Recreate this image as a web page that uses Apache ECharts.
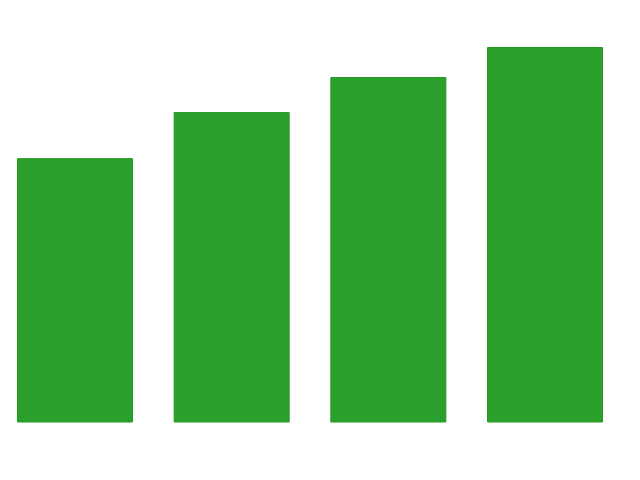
<!DOCTYPE html>
<html>
<head>
<meta charset="utf-8">
<script src="https://cdn.jsdelivr.net/npm/echarts@6/dist/echarts.min.js"></script>
<style>html,body{margin:0;padding:0;background:#fff;}#c{width:640px;height:480px;}</style>
</head>
<body>
<div id="c"></div>
<script>
var categories = ['A', 'B', 'C', 'D'];
var values = [26.4, 31.0, 34.5, 37.5];
var yMax = 37.5;

var chart = echarts.init(document.getElementById('c'), null, {renderer: 'canvas'});
chart.setOption({
  animation: false,
  backgroundColor: '#ffffff',
  grid: {left: 17, width: 586, top: 47, bottom: 57.5, containLabel: false},
  xAxis: {
    type: 'value', min: -0.37, max: 3.37,
    axisLine: {show: false}, axisTick: {show: false}, axisLabel: {show: false}, splitLine: {show: false}
  },
  yAxis: {
    type: 'value', min: 0, max: yMax,
    axisLine: {show: false}, axisTick: {show: false}, axisLabel: {show: false}, splitLine: {show: false}
  },
  series: [{
    type: 'bar', barWidth: 116,
    data: categories.map(function (c, i) { return [i, values[i]]; }),
    itemStyle: {color: '#2ca02c', borderColor: '#239a23', borderWidth: 1}
  }]
});
</script>
</body>
</html>
